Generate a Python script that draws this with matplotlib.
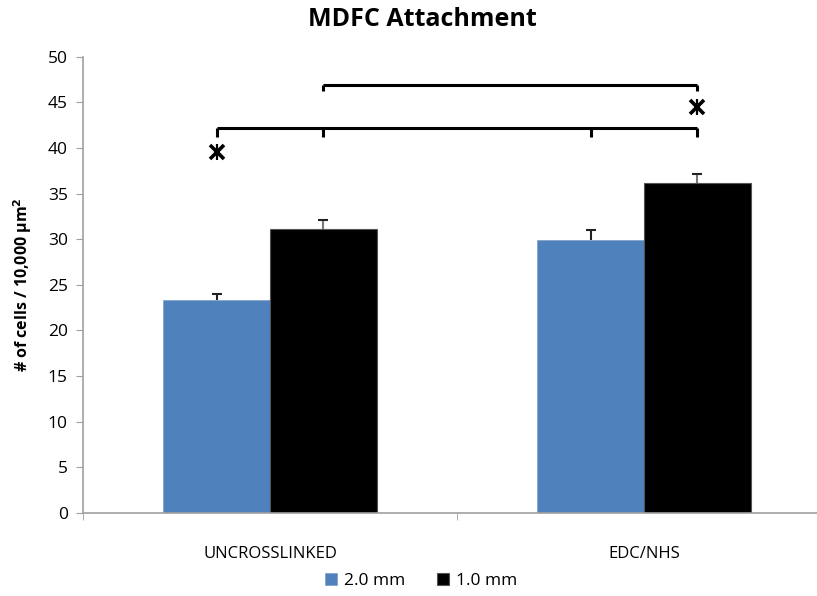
import matplotlib.pyplot as plt
import numpy as np

plt.rcParams['font.family'] = ['Open Sans', 'DejaVu Sans']

# data
categories = ["UNCROSSLINKED", "EDC/NHS"]
series_names = ["2.0 mm", "1.0 mm"]
vals_2mm = [23.35, 29.9]
vals_1mm = [31.1, 36.15]
err_2mm = [0.65, 1.15]
err_1mm = [1.0, 0.95]

# significance brackets and stars
low_bracket_y = 42.15
high_bracket_y = 46.9
star_points = [(0, 39.6), (3, 44.5)]  # (bar index, y)

fig = plt.figure(figsize=(8.17, 5.96), dpi=100)
ax = fig.add_axes([83 / 817, 83 / 596, 748 / 817, 456.3 / 596])

x = np.arange(len(categories))
w = 0.285
blue = "#4F81BD"
b1 = ax.bar(x - w / 2, vals_2mm, w, color=blue, edgecolor="#7f9fc8", linewidth=0.5, label=series_names[0])
b2 = ax.bar(x + w / 2, vals_1mm, w, color="black", edgecolor="#555555", linewidth=0.8, label=series_names[1])

# upper-only error bars
for xs, vals, errs, col in [(x - w / 2, vals_2mm, err_2mm, "#222222"),
                            (x + w / 2, vals_1mm, err_1mm, "#777777")]:
    tops = np.array(vals) + np.array(errs)
    ax.vlines(xs, vals, tops, color=col, lw=1.5)
    ax.plot(xs, tops, ls="none", marker="_", markersize=7, mew=1.5, color="#222222")

bar_x = [x[0] - w / 2, x[0] + w / 2, x[1] - w / 2, x[1] + w / 2]

# lower bracket across all four bars
ax.plot([bar_x[0], bar_x[3]], [low_bracket_y, low_bracket_y], color="black", lw=2.2,
        solid_capstyle="butt")
for bx in bar_x:
    ax.plot([bx, bx], [low_bracket_y, low_bracket_y - 0.9], color="black", lw=2.2,
            solid_capstyle="butt")
# upper bracket between the black bars
ax.plot([bar_x[1], bar_x[3]], [high_bracket_y, high_bracket_y], color="black", lw=2.2,
        solid_capstyle="butt")
for bx in (bar_x[1], bar_x[3]):
    ax.plot([bx, bx], [high_bracket_y, high_bracket_y - 0.7], color="black", lw=2.2,
            solid_capstyle="butt")

for idx, sy in star_points:
    ax.plot(bar_x[idx], sy, marker="x", markersize=10, mew=2.6, color="black")
    ax.plot(bar_x[idx], sy, marker="|", markersize=11, mew=1.6, color="black")

ax.set_xlim(-0.5, 1.5)
ax.set_ylim(0, 50)
ax.set_yticks(np.arange(0, 51, 5))
ax.set_xticks(x)
ax.set_xticklabels(categories, fontsize=12)
ax.set_xticks([-0.5, 0.5, 1.5], minor=True)
ax.tick_params(axis="x", which="major", length=0, pad=24)
ax.tick_params(axis="x", which="minor", length=5, color="#a0a0a0", direction="out")
ax.tick_params(axis="y", length=5, color="#a0a0a0", labelsize=12.5, pad=6)

for s in ("top", "right"):
    ax.spines[s].set_visible(False)
for s in ("left", "bottom"):
    ax.spines[s].set_color("#a0a0a0")
    ax.spines[s].set_linewidth(1.2)

ax.set_ylabel("# of cells / 10,000 μm$^\\mathbf{2}$", fontsize=11.5, fontweight="bold", labelpad=10)
fig.text(0.5 + 14 / 817, 1 - 20 / 596, "MDFC Attachment", ha="center", va="center",
         fontsize=18, fontweight="bold")

fig.legend(handles=[b1, b2], labels=series_names, loc="center",
           bbox_to_anchor=(421 / 817, 1 - 581 / 596),
           ncol=2, frameon=False, fontsize=12.5, handlelength=0.7, handleheight=0.7,
           handletextpad=0.4, columnspacing=1.8)

fig.savefig("out.png", dpi=100)
